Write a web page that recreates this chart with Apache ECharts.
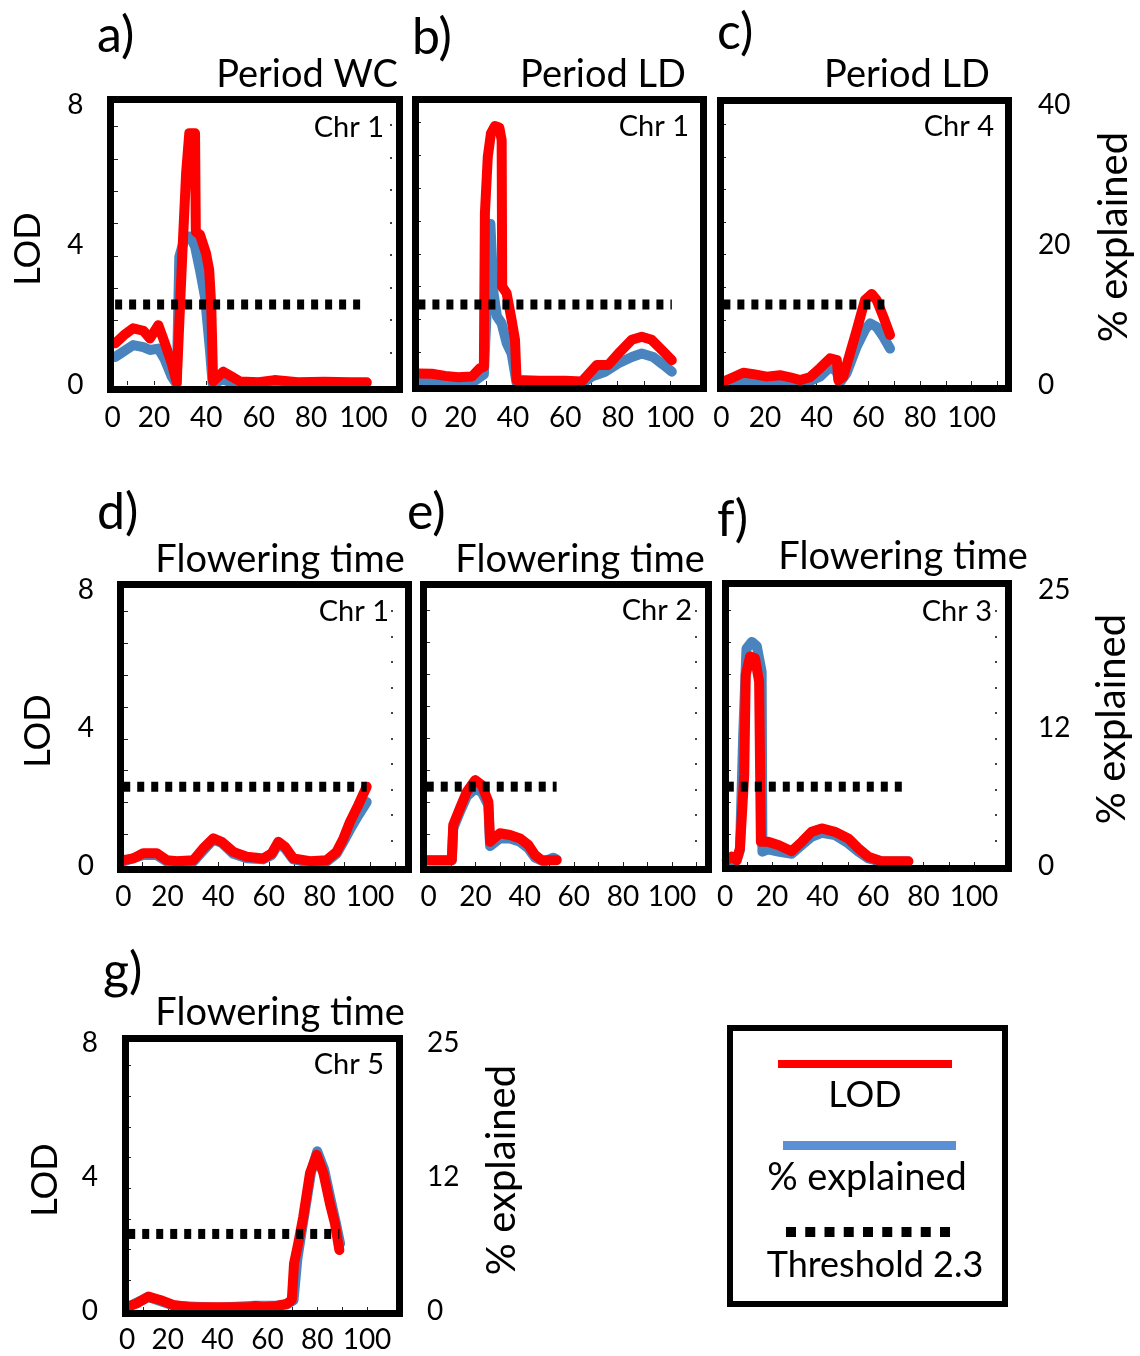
<!DOCTYPE html>
<html>
<head>
<meta charset="utf-8">
<title>QTL scans: LOD and % explained</title>
<script src="https://cdn.jsdelivr.net/npm/echarts@6/dist/echarts.min.js"></script>
<style>
  html, body { margin: 0; padding: 0; background: #fff; }
  #chart { width: 1140px; height: 1356px; }
</style>
</head>
<body>
<div id="chart"></div>
<script>
// ---- tick labels ----
const xTickLabels = [0, 20, 40, 60, 80, 100];
const lodTickLabels = [0, 4, 8];
const pctTicksPeriod = [0, 20, 40];
const pctTicksFlowering = [0, 12.5, 25];
const thresholdLod = 2.3;

// ---- a) Period WC, Chr 1 ----
const posA_lod = [5.2, 8.5, 12.1, 16, 18.5, 21.7, 24.2, 26.8, 28.7, 30.8, 32.3, 33.5, 35.7, 36.0, 37.6, 39.9, 41.1, 41.9, 42.6, 46.5, 49.7, 52.9, 60, 66, 75, 85, 95, 101.2];
const lodA     = [1.19, 1.42, 1.62, 1.55, 1.33, 1.71, 1.19, 0.62, 0.08, 3.67, 6.05, 7.19, 7.19, 4.38, 4.29, 3.76, 3.29, 2.24, 0.1, 0.38, 0.24, 0.1, 0.08, 0.14, 0.08, 0.09, 0.08, 0.08];
const posA_pct = [5.2, 12.1, 16, 18.5, 21.7, 24.2, 26.8, 28.7, 29.7, 31.9, 33.8, 35.7, 37.6, 39.5, 41.4, 42.4, 46.5, 49.7, 60, 80, 101.2];
const pctA     = [4.0, 5.7, 5.4, 5.0, 5.2, 3.6, 1.2, 0.1, 18.3, 21.2, 21.2, 19.8, 16.4, 12.6, 5.0, 0.2, 0.8, 0.3, 0.3, 0.3, 0.3];

// ---- b) Period LD, Chr 1 ----
const posB_lod = [3.9, 9, 14.1, 19.1, 24.3, 27.4, 28.9, 29.3, 30.4, 31.6, 33.1, 34.8, 35.7, 35.9, 37.6, 39.5, 40.8, 41.4, 50, 60, 66.3, 72, 76.4, 80.3, 85.4, 89.2, 93, 96.9, 100.7];
const lodB     = [0.33, 0.32, 0.26, 0.22, 0.24, 0.48, 0.52, 4.9, 6.52, 7.19, 7.4, 7.36, 7.0, 2.81, 2.62, 1.86, 1.29, 0.14, 0.12, 0.12, 0.1, 0.57, 0.57, 0.9, 1.29, 1.38, 1.29, 1.0, 0.71];
const posB_pct = [3.9, 14.1, 24.3, 28.9, 30.4, 31.4, 32.6, 33.9, 35.7, 37.6, 39.5, 41.4, 50, 66.3, 70.1, 75.2, 80.3, 85.4, 89.2, 93.6, 97.4, 100.7];
const pctB     = [0.5, 0.3, 0.3, 1.5, 14, 23, 13.1, 9.8, 8.8, 6.0, 4.5, 0.3, 0.2, 0.2, 1.2, 1.9, 3.1, 4.0, 4.5, 4.0, 2.9, 1.9];

// ---- c) Period LD, Chr 4 ----
const posC_lod = [3.9, 7.7, 11.6, 15.5, 20.7, 25.8, 29.7, 33.6, 37.4, 41.3, 45.2, 47.8, 48.4, 50.3, 52.9, 55.5, 58.7, 61.3, 63.2, 65.8, 68.4];
const lodC     = [0.1, 0.22, 0.35, 0.31, 0.24, 0.28, 0.22, 0.14, 0.22, 0.48, 0.76, 0.71, 0.14, 0.24, 0.9, 1.57, 2.43, 2.6, 2.43, 1.95, 1.43];
const posC_pct = [3.9, 8, 12.9, 16, 25, 35, 41.3, 45.2, 47.8, 48.9, 51.6, 55.5, 58.7, 60.7, 63.2, 65.8, 68.4];
const pctC     = [0.1, 0.4, 0.7, 0.2, 0.2, 0.2, 1.2, 2.6, 1.9, 0.3, 1.7, 5.5, 7.9, 8.8, 8.3, 6.9, 5.2];

// ---- d) Flowering time, Chr 1 ----
const posD_lod = [2.5, 6.5, 10.4, 15.7, 19.7, 23.7, 30.2, 34.1, 38.1, 41.4, 46, 51.3, 57.8, 61.2, 63.8, 66.4, 69.7, 76.3, 82.9, 86.8, 89.5, 92.1, 95.4, 98.7];
const lodD     = [0.17, 0.22, 0.37, 0.37, 0.17, 0.14, 0.17, 0.51, 0.8, 0.7, 0.41, 0.27, 0.22, 0.37, 0.7, 0.56, 0.22, 0.14, 0.17, 0.41, 0.8, 1.28, 1.77, 2.3];
const posD_pct = [2.5, 10.4, 15.7, 19.7, 30.2, 34.1, 38.1, 41.4, 46, 51.3, 57.8, 61.2, 63.8, 66.4, 69.7, 76.3, 82.9, 86.8, 89.5, 92.1, 95.4, 98.7];
const pctD     = [0.4, 1.0, 1.0, 0.4, 0.4, 1.4, 2.4, 2.1, 1.1, 0.7, 0.6, 1.0, 2.0, 1.6, 0.6, 0.3, 0.4, 1.1, 2.2, 3.3, 4.6, 5.8];

// ---- e) Flowering time, Chr 2 ----
const posE_lod = [0.1, 6.8, 10.3, 10.9, 13.6, 16.4, 19.8, 22.5, 25.2, 25.9, 29.9, 34, 38.1, 41.5, 44.2, 46.9, 53];
const lodE     = [0.17, 0.17, 0.17, 1.19, 1.67, 2.15, 2.49, 2.35, 1.86, 0.7, 0.95, 0.9, 0.8, 0.61, 0.32, 0.17, 0.17];
const posE_pct = [0.1, 10.3, 10.9, 13.6, 16.4, 19.8, 22.5, 25.2, 25.9, 29.9, 34, 38.1, 41.5, 44.2, 47.9, 51.7, 53];
const pctE     = [0.5, 0.5, 3.4, 4.9, 6.3, 7.0, 6.7, 5.5, 1.8, 2.5, 2.5, 2.2, 1.6, 0.75, 0.4, 0.75, 0.6];

// ---- f) Flowering time, Chr 3 ----
const posF_lod = [2.1, 4, 6, 7.3, 9.0, 9.6, 11.3, 13.3, 14.9, 15.6, 18.5, 22.5, 27.8, 31.8, 35.7, 39.7, 44.9, 50.2, 54.2, 58.1, 63.4, 74];
const lodF     = [0.17, 0.27, 0.17, 0.51, 2.64, 5.54, 6.07, 6.02, 5.34, 0.7, 0.7, 0.61, 0.43, 0.7, 0.99, 1.09, 0.99, 0.8, 0.51, 0.27, 0.14, 0.14];
const posF_pct = [2.1, 6, 7.3, 8.6, 9.9, 12, 14, 15.9, 16.2, 18.5, 22.5, 27.8, 31.8, 35.7, 39.7, 44.9, 50.2, 54.2, 58.1, 63.4, 74];
const pctF     = [0.5, 0.5, 1.4, 11.9, 19.7, 20.3, 19.9, 17.6, 1.3, 1.5, 1.3, 1.1, 1.9, 2.65, 3.0, 2.8, 2.05, 1.3, 0.7, 0.4, 0.4];

// ---- g) Flowering time, Chr 5 ----
const posG_lod = [4.1, 7.5, 12.2, 16.9, 22.2, 28.9, 40, 53, 55, 58.4, 63.7, 67.7, 69.8, 70.7, 72.4, 74.4, 77.1, 79.8, 82.5, 85.1, 87.1, 88.9];
const lodG     = [0.13, 0.23, 0.43, 0.33, 0.18, 0.11, 0.11, 0.11, 0.15, 0.11, 0.15, 0.21, 0.33, 1.42, 2.02, 2.81, 4.11, 4.66, 4.11, 3.21, 2.62, 1.82];
const posG_pct = [4.1, 12.2, 22.2, 40, 55, 63.7, 67.7, 70.5, 72.0, 74.0, 77.5, 80.0, 82.8, 85.4, 87.3, 89.2];
const pctG     = [0.4, 1.3, 0.5, 0.3, 0.5, 0.5, 0.6, 1.0, 4.8, 7.8, 12.9, 14.9, 13.2, 10.4, 8.4, 6.3];

// ---- styling ----
const FONT = 'Lato, "Open Sans", sans-serif';
const RED = '#ff0000';
const BLUE = '#4a84bf';
const LEGEND_BLUE = '#5b8fd6';
const CURVE_WIDTH = 10;

// Panel layout (pixel geometry of each framed plot)
const panels = [
  { letter: 'a)', letterAt: [97, 36], title: 'Period WC', titleAt: [307, 75], chr: 'Chr 1', chrAt: [384, 128],
    lodPos: posA_lod, lod: lodA, pctPos: posA_pct, pct: pctA, pctMax: 40, pctTicks: pctTicksPeriod,
    x0: 101.5, x100: 363.5, y0: 385, y8: 105, inL: 115, inR: 397, box: [110.5, 99.5, 289, 290],
    leftLabels: true, leftMargin: 18, rightLabels: false, rightMargin: 32,
    tickGap: 32.3, dotGap: 32.5, dotX: 392, zeroNudge: 11, xLabelMargin: 19 },
  { letter: 'b)', letterAt: [412, 38], title: 'Period LD', titleAt: [603, 75], chr: 'Chr 1', chrAt: [689, 127],
    lodPos: posB_lod, lod: lodB, pctPos: posB_pct, pct: pctB, pctMax: 40, pctTicks: pctTicksPeriod,
    x0: 408.2, x100: 670, y0: 385, y8: 105, inL: 418, inR: 701, box: [415.5, 99.5, 288, 289],
    leftLabels: false, leftMargin: 18, rightLabels: false, rightMargin: 32,
    tickGap: 32.8, dotGap: 0, dotX: 0, zeroNudge: 11, xLabelMargin: 19 },
  { letter: 'c)', letterAt: [717, 33], title: 'Period LD', titleAt: [907, 75], chr: 'Chr 4', chrAt: [994, 127],
    lodPos: posC_lod, lod: lodC, pctPos: posC_pct, pct: pctC, pctMax: 40, pctTicks: pctTicksPeriod,
    x0: 713.3, x100: 971.7, y0: 385, y8: 105, inL: 723, inR: 1006, box: [720.5, 100.5, 288, 288],
    leftLabels: false, leftMargin: 18, rightLabels: true, rightMargin: 32,
    tickGap: 32.6, dotGap: 0, dotX: 0, zeroNudge: 8, xLabelMargin: 19 },
  { letter: 'd)', letterAt: [97, 513], title: 'Flowering time', titleAt: [280, 560], chr: 'Chr 1', chrAt: [389, 612],
    lodPos: posD_lod, lod: lodD, pctPos: posD_pct, pct: pctD, pctMax: 25, pctTicks: pctTicksFlowering,
    x0: 116.9, x100: 370, y0: 866, y8: 590, inL: 125, inR: 405, box: [120.5, 584.5, 288, 285],
    leftLabels: true, leftMargin: 23, rightLabels: false, rightMargin: 32,
    tickGap: 31.8, dotGap: 25.5, dotX: 393, zeroNudge: 6.5, xLabelMargin: 17 },
  { letter: 'e)', letterAt: [407, 513], title: 'Flowering time', titleAt: [580, 560], chr: 'Chr 2', chrAt: [692, 611],
    lodPos: posE_lod, lod: lodE, pctPos: posE_pct, pct: pctE, pctMax: 25, pctTicks: pctTicksFlowering,
    x0: 426.5, x100: 672, y0: 866, y8: 590, inL: 427, inR: 706, box: [423.5, 584.5, 285, 285],
    leftLabels: false, leftMargin: 23, rightLabels: false, rightMargin: 32,
    tickGap: 32, dotGap: 25.5, dotX: 697, zeroNudge: 2, xLabelMargin: 17 },
  { letter: 'f)', letterAt: [717, 520], title: 'Flowering time', titleAt: [903, 557], chr: 'Chr 3', chrAt: [992, 612],
    lodPos: posF_lod, lod: lodF, pctPos: posF_pct, pct: pctF, pctMax: 25, pctTicks: pctTicksFlowering,
    x0: 721.5, x100: 974, y0: 866, y8: 590, inL: 728, inR: 1006, box: [725.5, 583.5, 283, 285],
    leftLabels: false, leftMargin: 23, rightLabels: true, rightMargin: 32,
    tickGap: 32, dotGap: 25.5, dotX: 997, zeroNudge: 3.5, xLabelMargin: 17 },
  { letter: 'g)', letterAt: [103, 972], title: 'Flowering time', titleAt: [280, 1013], chr: 'Chr 5', chrAt: [384, 1065],
    lodPos: posG_lod, lod: lodG, pctPos: posG_pct, pct: pctG, pctMax: 25, pctTicks: pctTicksFlowering,
    x0: 118, x100: 367, y0: 1311, y8: 1043, inL: 128, inR: 397, box: [125.5, 1038.5, 274, 275],
    leftLabels: true, leftMargin: 20, rightLabels: true, rightMargin: 30,
    tickGap: 30.7, dotGap: 0, dotX: 0, zeroNudge: 9, xLabelMargin: 15 }
];

const grids = [], xAxes = [], yAxes = [], series = [], graphics = [];

function intsUpTo(n) {
  const out = [];
  for (let k = 1; k <= n; k++) out.push(k);
  return out;
}

panels.forEach((p, i) => {
  const slope = (p.x100 - p.x0) / 100;
  const xMax = (p.inR - p.x0) / slope;
  const xInnerMin = (p.inL - p.x0) / slope;
  const plotH = p.y0 - p.y8;

  grids.push({ left: p.x0, top: p.y8, width: p.inR - p.x0, height: plotH,
               containLabel: false, outerBoundsMode: 'none' });

  const xTicks = [];
  for (let v = 10; v < xMax - 3; v += 10) if (v > xInnerMin + 1) xTicks.push(v);

  xAxes.push({
    gridIndex: i, type: 'value', min: 0, max: xMax,
    axisLine: { show: false }, splitLine: { show: false },
    axisTick: { show: true, inside: true, length: 4, customValues: xTicks, lineStyle: { color: '#222', width: 1 } },
    axisLabel: {
      customValues: xTickLabels, fontSize: 28, fontFamily: FONT, color: '#000', margin: p.xLabelMargin,
      formatter: v => (v === 0 ? '{z|0}' : String(v)),
      rich: { z: { fontSize: 28, fontFamily: FONT, color: '#000', padding: [0, 0, 0, 2 * p.zeroNudge] } }
    }
  });

  // LOD scale (left)
  const yLod = yAxes.length;
  yAxes.push({
    gridIndex: i, type: 'value', min: 0, max: 8, position: 'left',
    axisLine: { show: false }, axisTick: { show: false }, splitLine: { show: false },
    axisLabel: { show: p.leftLabels, customValues: lodTickLabels, fontSize: 28, fontFamily: FONT, color: '#000', margin: p.leftMargin }
  });

  // % explained scale (right)
  const yPct = yAxes.length;
  yAxes.push({
    gridIndex: i, type: 'value', min: 0, max: p.pctMax, position: 'right',
    axisLine: { show: false }, axisTick: { show: false }, splitLine: { show: false },
    axisLabel: { show: p.rightLabels, customValues: p.pctTicks, fontSize: 28, fontFamily: FONT, color: '#000',
                 margin: p.rightMargin, formatter: v => String(Math.floor(v)) }
  });

  // inner tick marks along the left frame
  const leftCount = plotH / p.tickGap;
  yAxes.push({
    gridIndex: i, type: 'value', min: 0, max: leftCount, position: 'left',
    offset: p.x0 - (p.inL - 1),
    axisLine: { show: false }, splitLine: { show: false }, axisLabel: { show: false },
    axisTick: { show: true, inside: true, length: 4, customValues: intsUpTo(Math.floor(leftCount - 0.3)),
                lineStyle: { color: '#222', width: 1 } }
  });

  // dotted minor marks along the right frame
  if (p.dotGap) {
    const rightCount = plotH / p.dotGap;
    yAxes.push({
      gridIndex: i, type: 'value', min: 0, max: rightCount, position: 'right',
      offset: p.dotX - p.inR,
      axisLine: { show: false }, splitLine: { show: false }, axisLabel: { show: false },
      axisTick: { show: true, inside: true, length: 2, customValues: intsUpTo(Math.floor(rightCount - 0.3)),
                  lineStyle: { color: '#444', width: 2 } }
    });
  }

  const common = { type: 'line', xAxisIndex: i, showSymbol: false, symbol: 'none', clip: false, silent: true, animation: false };

  series.push(Object.assign({}, common, {
    name: '% explained', yAxisIndex: yPct, z: 2,
    data: p.pctPos.map((x, k) => [x, p.pct[k]]),
    lineStyle: { color: BLUE, width: CURVE_WIDTH, cap: 'round', join: 'round' }
  }));
  series.push(Object.assign({}, common, {
    name: 'LOD', yAxisIndex: yLod, z: 3,
    data: p.lodPos.map((x, k) => [x, p.lod[k]]),
    lineStyle: { color: RED, width: CURVE_WIDTH, cap: 'round', join: 'round' }
  }));
  series.push(Object.assign({}, common, {
    name: 'Threshold 2.3', yAxisIndex: yLod, z: 4,
    data: [[p.lodPos[0], thresholdLod], [p.lodPos[p.lodPos.length - 1], thresholdLod]],
    lineStyle: { color: '#000', width: 10, type: [7, 7], cap: 'butt' }
  }));

  // frame, captions
  graphics.push({ type: 'rect', z: 100, silent: true,
    shape: { x: p.box[0], y: p.box[1], width: p.box[2], height: p.box[3] },
    style: { fill: null, stroke: '#000', lineWidth: 7 } });
  graphics.push({ type: 'text', z: 100, x: p.letterAt[0], y: p.letterAt[1],
    style: { text: p.letter, fontSize: 50, fontFamily: FONT, fill: '#000', textAlign: 'left', textVerticalAlign: 'middle' } });
  graphics.push({ type: 'text', z: 100, x: p.titleAt[0], y: p.titleAt[1],
    style: { text: p.title, fontSize: 38, fontFamily: FONT, fill: '#000', textAlign: 'center', textVerticalAlign: 'middle' } });
  graphics.push({ type: 'text', z: 100, x: p.chrAt[0], y: p.chrAt[1],
    style: { text: p.chr, fontSize: 29, fontFamily: FONT, fill: '#000', textAlign: 'right', textVerticalAlign: 'middle' } });
});

// rotated axis titles
const axisTitles = [
  { text: 'LOD', at: [28, 249], size: 36 },
  { text: 'LOD', at: [38, 731], size: 36 },
  { text: 'LOD', at: [45, 1180], size: 36 },
  { text: '% explained', at: [1114, 237], size: 40 },
  { text: '% explained', at: [1112, 719], size: 40 },
  { text: '% explained', at: [502, 1170], size: 40 }
];
axisTitles.forEach(t => {
  graphics.push({ type: 'text', z: 100, x: t.at[0], y: t.at[1], rotation: Math.PI / 2,
    style: { text: t.text, fontSize: t.size, fontFamily: FONT, fill: '#000', textAlign: 'center', textVerticalAlign: 'middle' } });
});

// legend panel
graphics.push({ type: 'rect', z: 100, silent: true,
  shape: { x: 730, y: 1028, width: 275, height: 276 },
  style: { fill: null, stroke: '#000', lineWidth: 6 } });
graphics.push({ type: 'line', z: 100, shape: { x1: 778, y1: 1064, x2: 952, y2: 1064 },
  style: { stroke: RED, lineWidth: 8 } });
graphics.push({ type: 'text', z: 100, x: 865, y: 1095,
  style: { text: 'LOD', fontSize: 36, fontFamily: FONT, fill: '#000', textAlign: 'center', textVerticalAlign: 'middle' } });
graphics.push({ type: 'line', z: 100, shape: { x1: 783, y1: 1145.5, x2: 956, y2: 1145.5 },
  style: { stroke: LEGEND_BLUE, lineWidth: 9 } });
graphics.push({ type: 'text', z: 100, x: 867, y: 1178,
  style: { text: '% explained', fontSize: 38, fontFamily: FONT, fill: '#000', textAlign: 'center', textVerticalAlign: 'middle' } });
graphics.push({ type: 'line', z: 100, shape: { x1: 786, y1: 1232, x2: 950, y2: 1232 },
  style: { stroke: '#000', lineWidth: 10, lineDash: [10, 9.25] } });
graphics.push({ type: 'text', z: 100, x: 875, y: 1265,
  style: { text: 'Threshold 2.3', fontSize: 36, fontFamily: FONT, fill: '#000', textAlign: 'center', textVerticalAlign: 'middle' } });

const chart = echarts.init(document.getElementById('chart'), null, { renderer: 'canvas', width: 1140, height: 1356 });
chart.setOption({
  animation: false,
  backgroundColor: '#fff',
  textStyle: { fontFamily: FONT },
  grid: grids,
  xAxis: xAxes,
  yAxis: yAxes,
  series: series,
  graphic: { elements: graphics }
});
</script>
</body>
</html>
